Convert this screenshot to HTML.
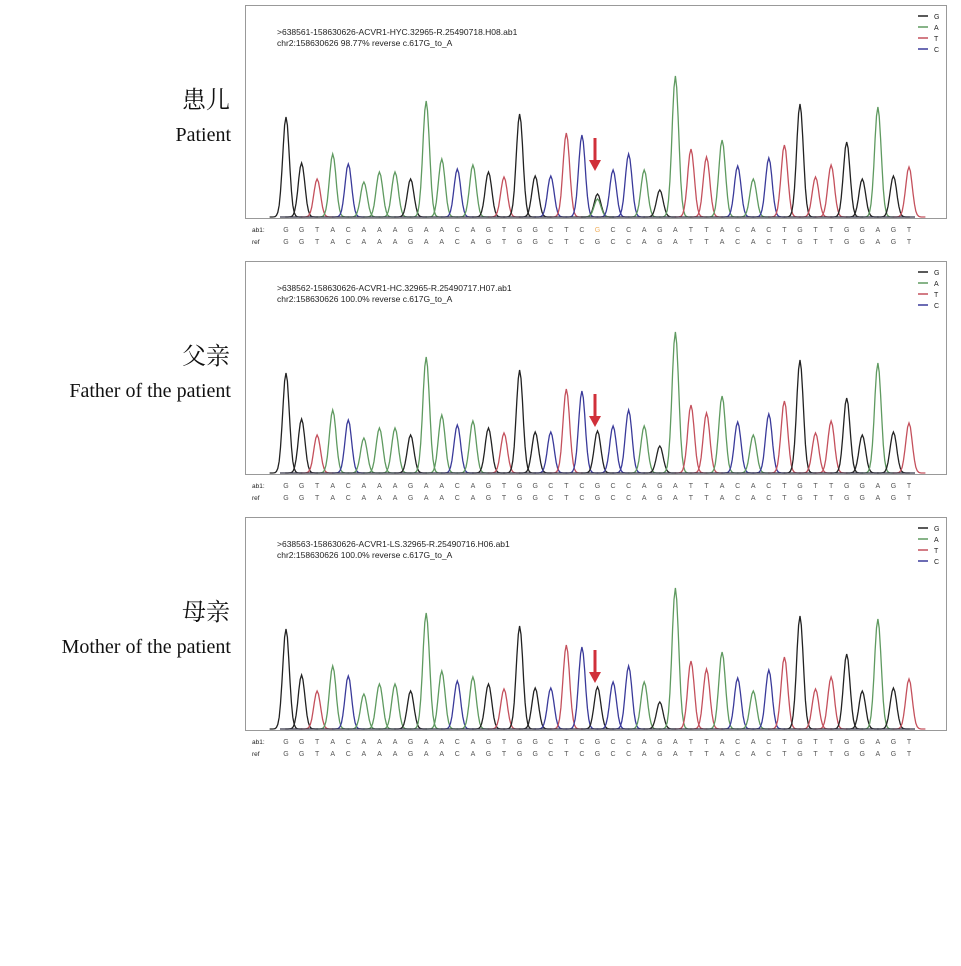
<!DOCTYPE html>
<html><head><meta charset="utf-8"><style>
body{margin:0;background:#fff}
svg{display:block}
.lbl{font-family:"Liberation Serif","Noto Serif CJK SC",serif;fill:#111}
.sm{font-family:"Liberation Sans",sans-serif;fill:#222}
</style></head><body>
<svg id="fig" width="961" height="966" viewBox="0 0 961 966" xmlns="http://www.w3.org/2000/svg"></svg>
<script>
const bases = "GGTACAAAGAACAGTGGCTCGCCAGATTACACTGTTGGAGT".split("");
const heights = [100,54,38,63,53,35,45,45,38,116,58,48,52,45,40,103,41,41,84,82,23,47,63,47,27,141,68,60,77,51,38,59,72,113,40,52,75,38,110,41,50];
const panelTitles = ["Patient","Father of the patient","Mother of the patient"];
const panelCn = ["患儿","父亲","母亲"];
const fileNames = [">638561-158630626-ACVR1-HYC.32965-R.25490718.H08.ab1",">638562-158630626-ACVR1-HC.32965-R.25490717.H07.ab1",">638563-158630626-ACVR1-LS.32965-R.25490716.H06.ab1"];
const percents = ["98.77%","100.0%","100.0%"];
const mutHeights = [23,42,42];
const colors = {G:"#222",A:"#5f9a60",T:"#c4505c",C:"#3a3a9a"};
const NS="http://www.w3.org/2000/svg";
const svg=document.getElementById('fig');
function mk(tag,attrs,parent){const e=document.createElementNS(NS,tag);for(const k in attrs)e.setAttribute(k,attrs[k]);(parent||svg).appendChild(e);return e;}
const x0=286, dx=(909-286)/40;
function xs(i){return x0+i*dx;}
panelTitles.forEach((t,p)=>{
  const oy=p*256;
  const g=mk('g',{transform:`translate(0,${oy})`});
  
  
  const cn=mk('text',{x:230,y:108,'text-anchor':'end','font-size':24,class:'lbl'},g);cn.textContent=panelCn[p];
  
  const en=mk('text',{x:231,y:141,'text-anchor':'end','font-size':20,class:'lbl'},g);en.textContent=t;
  
  const box=mk('rect',{x:245.5,y:5.5,width:701,height:213,fill:'none',stroke:'#999','stroke-width':1},g);
  
  const h1=mk('text',{x:277,y:35,'font-size':8.5,class:'sm'},g);h1.textContent=fileNames[p];
  
  const h2=mk('text',{x:277,y:46,'font-size':8.5,class:'sm'},g);h2.textContent="chr2:158630626  "+percents[p]+"  reverse  c.617G_to_A";
  
  ["G","A","T","C"].forEach((b,i)=>{
    const l=mk('line',{x1:918,x2:928,y1:16+i*11,y2:16+i*11,stroke:colors[b],'stroke-width':1.5},g);
    
    const tx=mk('text',{x:934,y:19+i*11,'font-size':7,class:'sm'},g);tx.textContent=b;
    
  });
  const base=217;
  bases.forEach((b,i)=>{
    let h=heights[i], col=colors[b];
    if(i===20){h=mutHeights[p];}
    const cx=xs(i), w=8.2;
    let d='';
    for(let k=-12;k<=12;k++){const xx=cx+k*w/6;const yy=base-h*Math.exp(-Math.pow(k/6*1.6,2)*1.2);d+=(k===-12?'M':'L')+xx.toFixed(1)+','+yy.toFixed(1);}
    const pk=mk('path',{d:d,fill:'none',stroke:col,'stroke-width':1.3},g);
    
    if(i===20&&p===0){
      let d2='';for(let k=-12;k<=12;k++){const xx=cx+k*w/6;const yy=base-18*Math.exp(-Math.pow(k/6*1.6,2)*1.2);d2+=(k===-12?'M':'L')+xx.toFixed(1)+','+yy.toFixed(1);}
      const pk2=mk('path',{d:d2,fill:'none',stroke:colors.A,'stroke-width':1.3},g);
      
    }
  });
  const bl=mk('line',{x1:280,x2:915,y1:base,y2:base,stroke:'#334','stroke-width':1.2},g);
  
  const ar=mk('line',{x1:595,x2:595,y1:138,y2:162,stroke:'#d0303a','stroke-width':3},g);
  
  const ah=mk('polygon',{points:'589,160 601,160 595,171',fill:'#d0303a'},g);
  
  ["ab1:","ref"].forEach((r,ri)=>{
    const y=232+ri*12;
    const rl=mk('text',{x:252,y:y,'font-size':6.5,class:'sm',fill:'#555'},g);rl.textContent=r;
    
    bases.forEach((b,i)=>{
      let ch=b, fill='#555';
      if(ri===0&&p===0&&i===20){ch='G';fill='#f0b060';}
      const t2=mk('text',{x:xs(i),y:y,'font-size':7,'text-anchor':'middle',class:'sm',fill:fill},g);t2.textContent=ch;
      t2.setAttribute('style','fill:'+fill);
      
    });
  });
});
</script>
</body></html>
